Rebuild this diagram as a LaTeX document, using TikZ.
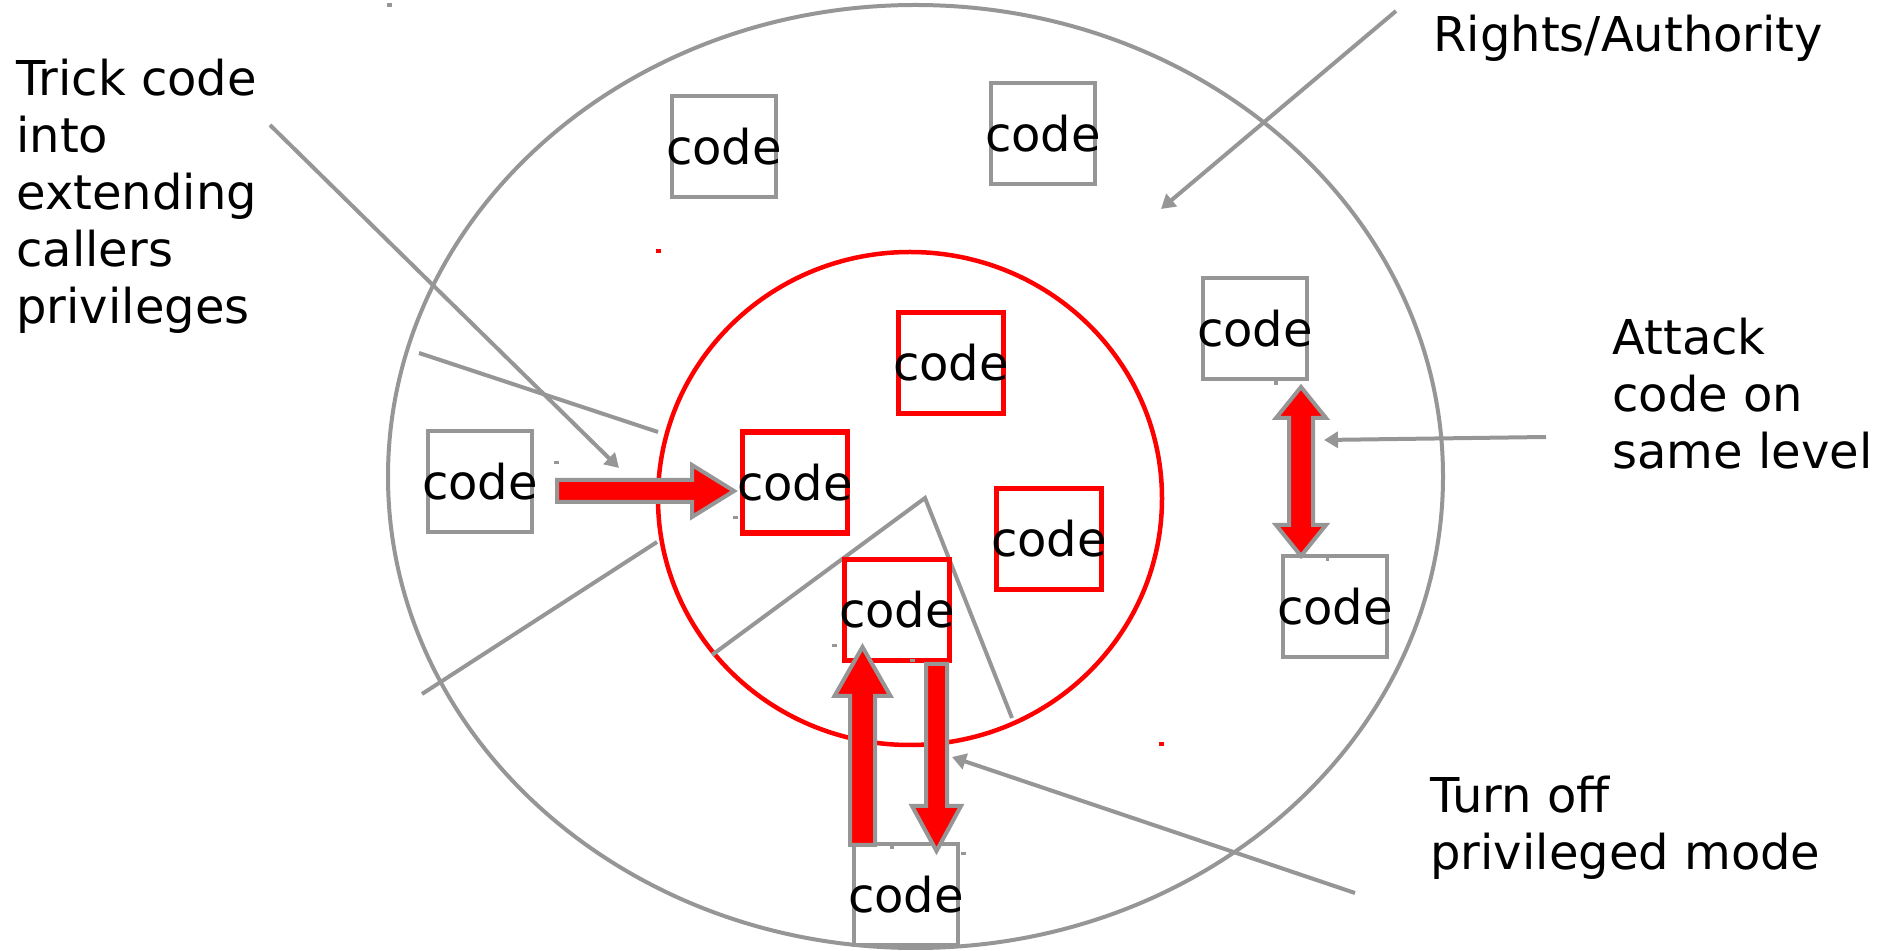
\documentclass[tikz,border=0pt]{standalone}
\usepackage{fontspec}
\setmainfont{DejaVu Sans}
\usetikzlibrary{arrows.meta}
\definecolor{rimgray}{RGB}{150,150,150}
\definecolor{hotred}{RGB}{255,0,0}
\newcommand{\codetag}{\makebox[0pt]{code}}

\tikzset{
  outerbox/.style={draw=rimgray,line width=2pt,minimum width=52pt,minimum height=50.5pt,inner sep=0pt,font=\fontsize{24pt}{28.5pt}\selectfont},
  innerbox/.style={draw=hotred,line width=2.75pt,minimum width=52.5pt,minimum height=50.5pt,inner sep=0pt,font=\fontsize{24pt}{28.5pt}\selectfont},
  pointer/.style={draw=rimgray,line width=2pt,-{Triangle[length=7pt,width=8pt]}},
  divider/.style={draw=rimgray,line width=2pt},
  blockarrow/.style={draw=rimgray,fill=hotred,line width=2pt,line join=miter},
  note/.style={align=left,inner sep=0pt,anchor=base west,font=\fontsize{24pt}{28.5pt}\selectfont},
  speck/.style={fill=rimgray}
}

\begin{document}
\begin{tikzpicture}[x=0.5pt,y=-0.5pt]
\useasboundingbox (0,0) rectangle (1887,951);

% rings
\draw [rimgray,line width=2pt] (915.5,476.5) ellipse [x radius=263.75pt,y radius=235.75pt];
\draw [hotred,line width=2.25pt] (910,498.5) ellipse [x radius=126pt,y radius=123.25pt];

% dividers
\draw [divider] (419,353) -- (658,432);
\draw [divider] (422,694) -- (657,542);
\draw [divider] (712,655) -- (925,498) -- (1012,718);

% code outside the ring
\node [outerbox] (outA) at (724,146.5) {\codetag};
\node [outerbox] (outB) at (1043,134) {\codetag};
\node [outerbox] (peerUp) at (1255,329) {\codetag};
\node [outerbox] (peerDown) at (1335,607) {\codetag};
\node [outerbox] (caller) at (480,482) {\codetag};
\node [outerbox] (lowcode) at (906,895) {\codetag};

% code inside the ring
\node [innerbox] (kernA) at (951,363) {\codetag};
\node [innerbox] (kernB) at (795,482.5) {\codetag};
\node [innerbox] (kernC) at (1049,539) {\codetag};
\node [innerbox] (kernD) at (897,610) {\codetag};

% block arrows
\draw [blockarrow] (557,480) -- (692,480) -- (692,465) -- (734,491) -- (692,517) -- (692,502) -- (557,502) -- cycle;
\draw [blockarrow] (850,845) -- (850,696) -- (834.5,696) -- (862.5,647) -- (890.5,696) -- (875,696) -- (875,845) -- cycle;
\draw [blockarrow] (926,664) -- (947,664) -- (947,806) -- (961,806) -- (936.5,851) -- (912,806) -- (926,806) -- cycle;
\draw [blockarrow] (1301,387) -- (1326,418) -- (1313,418) -- (1313,525) -- (1326,525) -- (1301,556) -- (1276,525) -- (1289,525) -- (1289,418) -- (1276,418) -- cycle;

% specks
\fill [rimgray] (387,3) rectangle (392,7);
\fill [hotred] (656,249) rectangle (661,253);
\fill [hotred] (1159,742) rectangle (1164,746);
\fill [speck] (554,461) rectangle (559,464);
\fill [speck] (733,516) rectangle (738,519);
\fill [speck] (832,644) rectangle (837,647);
\fill [speck] (910,659) rectangle (915,662);
\fill [speck] (1274,380) rectangle (1278,385);
\fill [speck] (1326,556) rectangle (1329,561);
\fill [speck] (890,845) rectangle (894,849);
\fill [speck] (961,852) rectangle (966,855);

% labels
\node [note] (trick) at (16,324) {Trick code\\into\\extending\\callers\\privileges};
\node [note] (rights) at (1433,52) {Rights/Authority};
\node [note] (attack) at (1612,469) {Attack\\code on\\same level};
\node [note] (turnoff) at (1430,870) {Turn off\\privileged mode};

% pointers
\coordinate (trickFrom) at (270,125);
\coordinate (trickTo) at (619,468);
\coordinate (rightsFrom) at (1396,11);
\coordinate (rightsTo) at (1161,209);
\coordinate (attackFrom) at (1546,437);
\coordinate (attackTo) at (1324,440);
\coordinate (turnoffFrom) at (1355,893);
\coordinate (turnoffTo) at (952,757);
\draw [pointer] (trickFrom) -- (trickTo);
\draw [pointer] (rightsFrom) -- (rightsTo);
\draw [pointer] (attackFrom) -- (attackTo);
\draw [pointer] (turnoffFrom) -- (turnoffTo);

\end{tikzpicture}
\end{document}
